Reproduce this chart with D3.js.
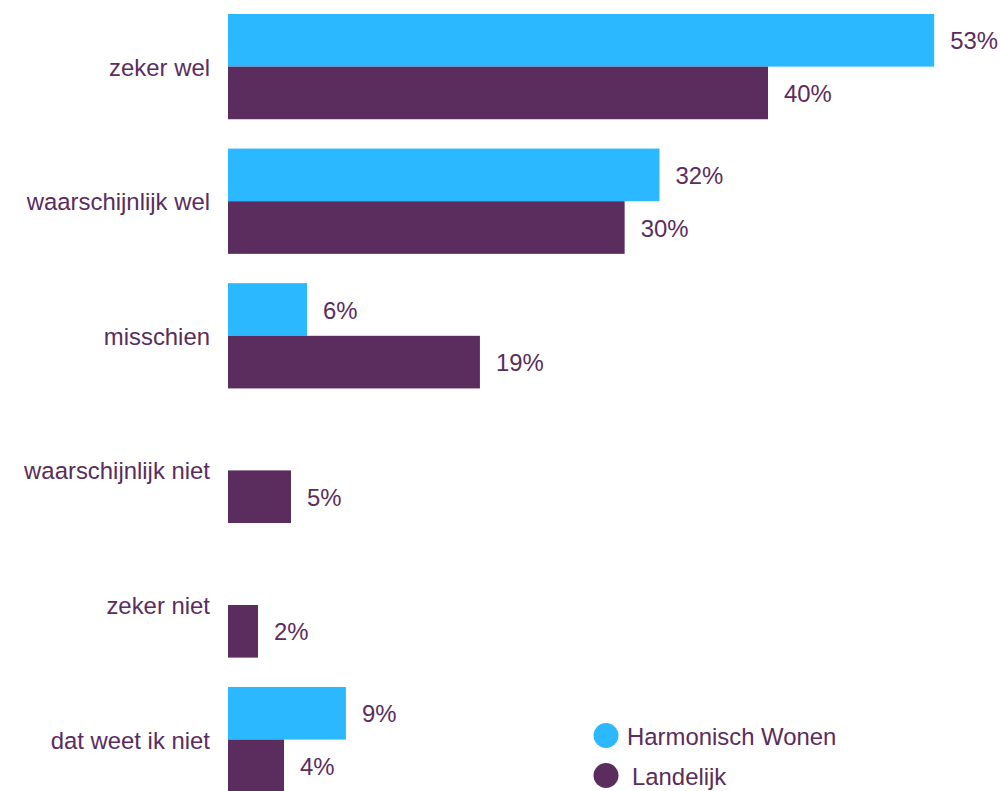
<!DOCTYPE html>
<html lang="nl">
<head>
  <meta charset="utf-8">
  <title>Harmonisch Wonen vs Landelijk</title>
  <script src="https://d3js.org/d3.v7.min.js"></script>
  <style>
    body { margin: 0; background: #fff; }
    svg { display: block; font-family: "Liberation Sans", Arial, sans-serif; }
  </style>
</head>
<body>
  <svg width="1000" height="791"></svg>
  <script>
    // answers, top to bottom
    const categories = ["zeker wel", "waarschijnlijk wel", "misschien", "waarschijnlijk niet", "zeker niet", "dat weet ik niet"];
    const seriesNames = ["Harmonisch Wonen", "Landelijk"];
    // percentages (null = no bar)
    const harmonisch = [52.7, 32.2, 5.9, null, null, 8.8];
    const landelijk = [40.3, 29.6, 18.8, 4.7, 2.24, 4.18];
    const colors = ["#2cb8ff", "#5b2c5e"];

    const svg = d3.select("svg");
    const textColor = "#5b2c5e";
    const fontSize = 23.9;

    const rows = categories.map((c, i) => ({
      cat: c,
      vals: [harmonisch[i], landelijk[i]]
    }));

    const x = d3.scaleLinear().domain([0, 55]).range([228, 228 + 55 * 13.4]);
    const y = d3.scaleBand().domain(categories).range([14, 792.2]).paddingInner(0.218).paddingOuter(0);
    const ySub = d3.scaleBand().domain(seriesNames).range([0, y.bandwidth()]);

    const groups = svg.selectAll("g.row")
      .data(rows)
      .join("g")
      .attr("class", "row")
      .attr("transform", d => `translate(0,${y(d.cat)})`);

    groups.append("text")
      .attr("x", x(0) - 18)
      .attr("y", y.bandwidth() / 2)
      .attr("dy", "0.38em")
      .attr("text-anchor", "end")
      .attr("fill", textColor)
      .attr("font-size", fontSize)
      .text(d => d.cat);

    const bars = groups.selectAll("g.bar")
      .data(d => d.vals.map((v, j) => ({ v, s: seriesNames[j], j })).filter(e => e.v != null))
      .join("g")
      .attr("class", "bar");

    bars.append("rect")
      .attr("x", x(0))
      .attr("y", d => ySub(d.s))
      .attr("width", d => x(d.v) - x(0))
      .attr("height", ySub.bandwidth())
      .attr("fill", d => colors[d.j]);

    bars.append("text")
      .attr("x", d => x(d.v) + 16)
      .attr("y", d => ySub(d.s) + ySub.bandwidth() / 2)
      .attr("dy", "0.38em")
      .attr("fill", textColor)
      .attr("font-size", fontSize)
      .text(d => Math.round(d.v) + "%");

    // legend
    const legend = svg.append("g").attr("transform", "translate(606,0)");
    const legY = [735.5, 775.5];
    const legDx = [21, 26];
    const items = legend.selectAll("g")
      .data(seriesNames)
      .join("g")
      .attr("transform", (d, i) => `translate(0,${legY[i]})`);
    items.append("circle")
      .attr("r", 12.5)
      .attr("fill", (d, i) => colors[i]);
    items.append("text")
      .attr("x", (d, i) => legDx[i])
      .attr("dy", "0.38em")
      .attr("fill", textColor)
      .attr("font-size", fontSize)
      .text(d => d);
  </script>
</body>
</html>
